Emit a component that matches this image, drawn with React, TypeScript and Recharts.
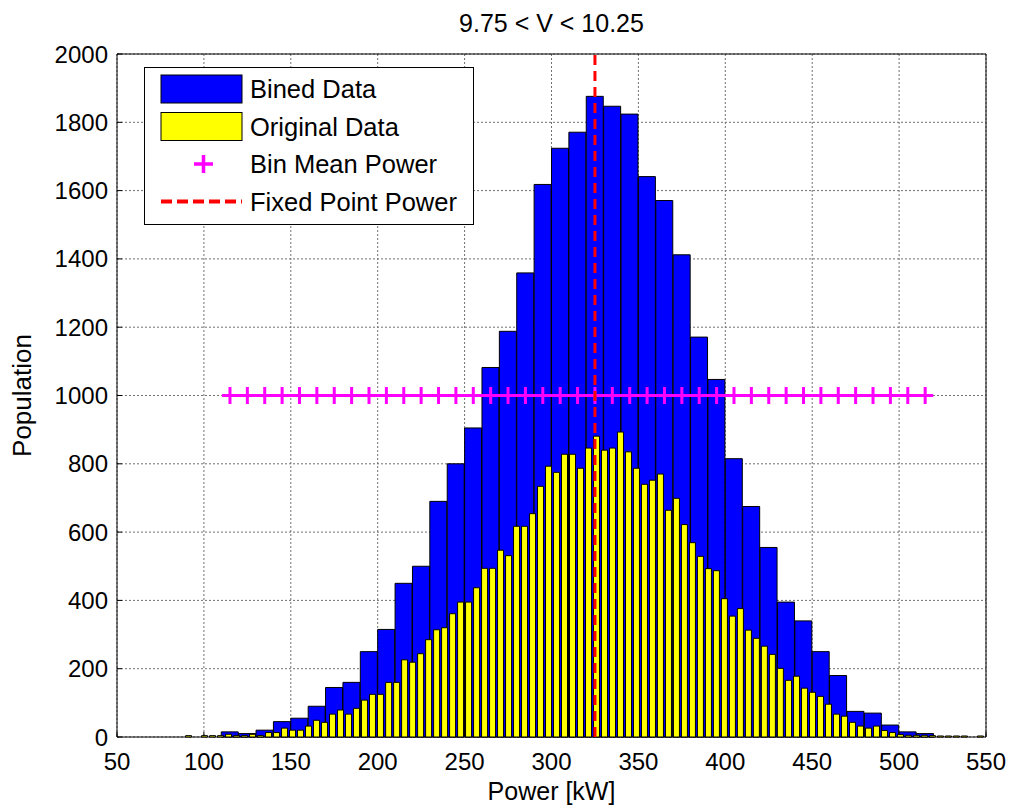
import React from 'react'
import {
  ComposedChart,
  Bar,
  Line,
  XAxis,
  YAxis,
  CartesianGrid,
  ReferenceLine,
  Legend,
} from 'recharts'

const W = 1009
const H = 807
const MARGIN = { top: 53, right: 22, bottom: 0, left: 0 }
const FONT = "'Liberation Sans', Arial, Helvetica, sans-serif"

const xTicks = [50, 100, 150, 200, 250, 300, 350, 400, 450, 500, 550]
const yTicks = [0, 200, 400, 600, 800, 1000, 1200, 1400, 1600, 1800, 2000]

// 10 kW bins (blue)
const binCenters = [
  115, 125, 135, 145, 155, 165, 175, 185, 195, 205, 215, 225, 235, 245, 255,
  265, 275, 285, 295, 305, 315, 325, 335, 345, 355, 365, 375, 385, 395, 405,
  415, 425, 435, 445, 455, 465, 475, 485, 495, 505, 515,
]
const binCounts = [
  15, 10, 20, 45, 55, 90, 145, 160, 250, 315, 450, 500, 690, 800, 905,
  1082, 1188, 1359, 1618, 1724, 1771, 1876, 1847, 1824, 1641, 1571, 1412, 1171, 1047, 815,
  675, 555, 395, 340, 250, 180, 75, 70, 35, 15, 10,
]
const binMeanPower = [
  1000, 1000, 1000, 1000, 1000, 1000, 1000, 1000, 1000, 1000, 1000, 1000, 1000, 1000, 1000,
  1000, 1000, 1000, 1000, 1000, 1000, 1000, 1000, 1000, 1000, 1000, 1000, 1000, 1000, 1000,
  1000, 1000, 1000, 1000, 1000, 1000, 1000, 1000, 1000, 1000, 1000,
]

// original histogram, 100 bins (yellow)
const rawCenters = [
  91.3, 95.9, 100.5, 105.1, 109.7, 114.3, 118.9, 123.5, 128.1, 132.7,
  137.3, 141.9, 146.5, 151.1, 155.7, 160.3, 164.9, 169.5, 174.1, 178.7,
  183.3, 187.9, 192.5, 197.1, 201.7, 206.4, 211.0, 215.6, 220.2, 224.8,
  229.4, 234.0, 238.6, 243.2, 247.8, 252.4, 257.0, 261.6, 266.2, 270.8,
  275.4, 280.0, 284.6, 289.2, 293.8, 298.4, 303.0, 307.6, 312.2, 316.8,
  321.4, 326.0, 330.6, 335.2, 339.8, 344.4, 349.0, 353.6, 358.2, 362.8,
  367.4, 372.0, 376.6, 381.2, 385.8, 390.4, 395.0, 399.6, 404.2, 408.8,
  413.4, 418.0, 422.6, 427.2, 431.8, 436.5, 441.1, 445.7, 450.3, 454.9,
  459.5, 464.1, 468.7, 473.3, 477.9, 482.5, 487.1, 491.7, 496.3, 500.9,
  505.5, 510.1, 514.7, 519.3, 523.9, 528.5, 533.1, 537.7, 542.3, 546.9,
]
const rawCounts = [
  4, 0, 4, 4, 4, 8, 4, 4, 8, 4,
  13, 13, 26, 20, 20, 32, 49, 43, 67, 79,
  67, 84, 108, 125, 125, 160, 160, 226, 219, 244,
  285, 314, 320, 361, 395, 395, 437, 494, 494, 547,
  531, 617, 617, 654, 734, 793, 775, 828, 828, 787,
  846, 881, 840, 846, 893, 835, 787, 740, 752, 770,
  664, 699, 622, 569, 529, 493, 487, 405, 354, 376,
  313, 289, 266, 242, 201, 166, 178, 143, 131, 119,
  96, 67, 61, 43, 32, 26, 32, 19, 13, 7,
  5, 5, 5, 4, 3, 3, 3, 3, 0, 3,
]

const fixedPointPower = 325

const binned = binCenters.map((x, i) => ({ x, count: binCounts[i], mean: binMeanPower[i] }))
const original = rawCenters.map((x, i) => ({ x, count: rawCounts[i] }))

const legendItems = [
  { label: 'Bined Data', kind: 'rect', color: '#0000ff' },
  { label: 'Original Data', kind: 'rect', color: '#ffff00' },
  { label: 'Bin Mean Power', kind: 'plus', color: '#ff00ff' },
  { label: 'Fixed Point Power', kind: 'dash', color: '#ff0000' },
]

function PlusDot(props: any) {
  const { cx, cy, index } = props
  if (cx == null || cy == null) return <g key={index} />
  return (
    <path
      key={index}
      d={`M${cx - 8},${cy}H${cx + 8}M${cx},${cy - 8.5}V${cy + 8.5}`}
      stroke="#ff00ff"
      strokeWidth={3}
      fill="none"
    />
  )
}

function renderLegend() {
  return (
    <div
      style={{
        width: 330,
        height: 158,
        boxSizing: 'border-box',
        border: '1px solid #000',
        background: '#fff',
      }}
    >
      <svg width={328} height={156} style={{ display: 'block' }}>
        {legendItems.map((item, i) => {
          const cy = 21 + i * 37.5
          let mark
          if (item.kind === 'rect') {
            mark = <rect x={16} y={cy - 14} width={81} height={28} fill={item.color} stroke="#000" />
          } else if (item.kind === 'plus') {
            mark = (
              <path
                d={`M49,${cy}H68M58.5,${cy - 9}V${cy + 9}`}
                stroke={item.color}
                strokeWidth={3.5}
                fill="none"
              />
            )
          } else {
            mark = (
              <line x1={16} x2={97} y1={cy} y2={cy} stroke={item.color} strokeWidth={4} strokeDasharray="11 5" />
            )
          }
          return (
            <g key={item.label}>
              {mark}
              <text x={105} y={cy + 9} fontSize={25.5} fill="#000">
                {item.label}
              </text>
            </g>
          )
        })}
      </svg>
    </div>
  )
}

function frameAxes(show: boolean) {
  const tickText = show ? { fill: '#000', fontSize: 24 } : false
  return [
    <XAxis
      key="bottom"
      xAxisId={0}
      dataKey="x"
      type="number"
      domain={[50, 550]}
      ticks={xTicks}
      interval={0}
      height={70}
      stroke="#000"
      axisLine={show}
      tickLine={show}
      tick={tickText}
      tickSize={-5}
      tickMargin={21}
      label={
        show
          ? { value: 'Power [kW]', position: 'insideBottom', offset: 7, fill: '#000', fontSize: 25 }
          : undefined
      }
    />,
    <XAxis
      key="top"
      xAxisId="top"
      orientation="top"
      dataKey="x"
      type="number"
      domain={[50, 550]}
      ticks={xTicks}
      interval={0}
      height={1}
      stroke="#000"
      axisLine={show}
      tickLine={show}
      tick={false}
      tickSize={-5}
      label={
        show
          ? { value: '9.75 < V < 10.25', position: 'top', offset: 21, fill: '#000', fontSize: 25 }
          : undefined
      }
    />,
    <YAxis
      key="left"
      yAxisId={0}
      type="number"
      domain={[0, 2000]}
      ticks={yTicks}
      interval={0}
      width={117}
      stroke="#000"
      axisLine={show}
      tickLine={show}
      tick={tickText}
      tickSize={-5}
      tickMargin={14}
      label={
        show
          ? {
              value: 'Population',
              angle: -90,
              position: 'insideLeft',
              offset: 22,
              fill: '#000',
              fontSize: 26,
              style: { textAnchor: 'middle' },
            }
          : undefined
      }
    />,
    <YAxis
      key="right"
      yAxisId="right"
      orientation="right"
      type="number"
      domain={[0, 2000]}
      ticks={yTicks}
      interval={0}
      width={1}
      stroke="#000"
      axisLine={show}
      tickLine={show}
      tick={false}
      tickSize={-5}
    />,
  ]
}

const layer: React.CSSProperties = { position: 'absolute', left: 0, top: 0 }

export default function App() {
  return (
    <div
      style={{
        position: 'absolute',
        left: 0,
        top: 0,
        width: W,
        height: H,
        background: '#fff',
        fontFamily: FONT,
      }}
    >
      <div style={layer}>
        <ComposedChart width={W} height={H} data={binned} margin={MARGIN} barCategoryGap={0} barGap={0}>
          <CartesianGrid stroke="#707070" strokeDasharray="2 2" />
          {frameAxes(true)}
          <Bar dataKey="count" fill="#0000ff" stroke="#000" strokeWidth={1} isAnimationActive={false} />
          <Line
            dataKey="mean"
            stroke="#ff00ff"
            strokeWidth={3}
            dot={PlusDot}
            activeDot={false}
            isAnimationActive={false}
          />
        </ComposedChart>
      </div>
      <div style={layer}>
        <ComposedChart width={W} height={H} data={original} margin={MARGIN} barCategoryGap="10%">
          {frameAxes(false)}
          <Bar dataKey="count" fill="#ffff00" stroke="#000" strokeWidth={1} isAnimationActive={false} />
          <ReferenceLine x={fixedPointPower} stroke="#ff0000" strokeWidth={3} strokeDasharray="10 6" />
          <Legend
            content={renderLegend}
            layout="horizontal"
            verticalAlign="middle"
            align="center"
            wrapperStyle={{ left: 144, top: 67, width: 330, height: 158 }}
          />
        </ComposedChart>
      </div>
    </div>
  )
}
